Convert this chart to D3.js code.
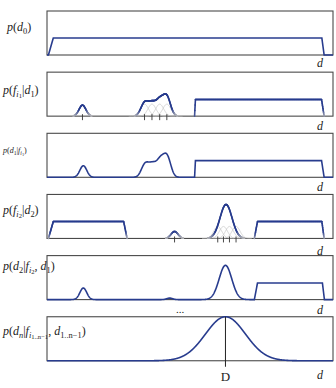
<!DOCTYPE html>
<html>
<head>
<meta charset="utf-8">
<script src="https://cdn.jsdelivr.net/npm/d3@7/dist/d3.min.js"></script>
<style>
  html, body { margin: 0; padding: 0; background: #fff; }
  svg { display: block; }
  text { font-family: "Liberation Serif", "DejaVu Serif", serif; fill: #222; }
</style>
</head>
<body>
<script>
// d runs 0..100 across each box, heights are in px-like units (box = 44)

// plateaus: [rampStart, top start, top end, rampEnd, height]
const plateaus = [
  [[0.5, 2.2, 96.1, 96.9, 17]],
  [[51.6, 51.9, 96.0, 96.9, 16.7]],
  [[51.6, 51.9, 96.0, 96.9, 16.7]],
  [[0.5, 2.2, 26.8, 28.0, 17], [72.5, 73.6, 96.1, 96.9, 17]],
  [[72.5, 73.6, 96.3, 97.0, 16.6]],
  []
];

// blue gaussian components: [centre, sigma, amplitude]
const bumps = [
  [],
  [[12.4, 1.2, 11], [34.1, 1.3, 13], [36.7, 1.3, 12], [39.4, 1.3, 15], [41.9, 1.3, 19]],
  [[12.7, 1.2, 11.6], [34.3, 1.3, 13], [36.9, 1.3, 12], [39.6, 1.3, 16], [42.0, 1.3, 20]],
  [[44.6, 1.2, 7], [62.6, 2.1, 34]],
  [[12.7, 1.2, 11.6], [42.9, 1.0, 1.5], [62.4, 2.2, 34.3]],
  [[62.4, 7.0, 44]]
];

// light grey single-feature gaussians
const features = [
  [], [[34.1, 1.4, 12], [36.7, 1.4, 12], [39.4, 1.4, 12], [41.9, 1.4, 12]],
  [], [[59.7, 1.4, 12], [61.7, 1.4, 12], [63.8, 1.4, 12], [66.1, 1.4, 12]],
  [], []
];

// feature tick positions
const featureTicks = [
  [], [12.4, 34.1, 36.7, 39.4, 41.9], [], [44.6, 59.7, 61.7, 63.8, 66.1], [], []
];

// likelihood panels fade to grey near zero
const isLikelihood = [false, true, false, true, false, false];

// labels as [text, style] pieces: i = italic, level 0/1/2 = base/sub/subsub
const labels = [
  [["p", "i", 0], ["(", "", 0], ["d", "i", 0], ["0", "", 1], [")", "", 0]],
  [["p", "i", 0], ["(", "", 0], ["f", "i", 0], ["i", "i", 1], ["1", "", 2], ["|", "", 0], ["d", "i", 0], ["1", "", 1], [")", "", 0]],
  [["p", "i", 0], ["(", "", 0], ["d", "i", 0], ["1", "", 1], ["|", "", 0], ["f", "i", 0], ["i", "i", 1], ["1", "", 2], [")", "", 0]],
  [["p", "i", 0], ["(", "", 0], ["f", "i", 0], ["i", "i", 1], ["2", "", 2], ["|", "", 0], ["d", "i", 0], ["2", "", 1], [")", "", 0]],
  [["p", "i", 0], ["(", "", 0], ["d", "i", 0], ["2", "", 1], ["|", "", 0], ["f", "i", 0], ["i", "i", 1], ["2", "", 2], [", ", "", 0], ["d", "i", 0], ["1", "", 1], [")", "", 0]],
  [["p", "i", 0], ["(", "", 0], ["d", "i", 0], ["n", "i", 1], ["|", "", 0], ["f", "i", 0], ["i", "i", 1], ["1..n−1", "", 2], [", ", "", 0], ["d", "i", 0], ["1..n−1", "", 1], [")", "", 0]]
];
const labelSize = [12, 12, 8, 12, 12, 12];
const labelPos = [[7, 31], [3, 94], [3, 153], [3, 214], [3, 270], [3, 335]];
const dLabelY = [67, 130, 191, 255, 314, 379];

const markerD = 62.4;   // the "D" line in the last panel

const W = 336, H = 388;
const blue = "#283c8e";
const boxLeft = 47, boxRight = 333, boxH = 44;
const panelTop = i => 11 + i * 61.15;

const x = d3.scaleLinear().domain([0, 100]).range([boxLeft, boxRight]);
const grid = d3.range(0, 100.0001, 0.1);

function trap(d, p) {
  const [a0, a1, b1, b0, h] = p;
  if (d <= a0 || d >= b0) return 0;
  if (d < a1) return h * (d - a0) / (a1 - a0);
  if (d > b1) return h * (b0 - d) / (b0 - b1);
  return h;
}
const gauss = (d, g) => g[2] * Math.exp(-0.5 * ((d - g[0]) / g[1]) ** 2);

const svg = d3.select("body").append("svg")
  .attr("width", W).attr("height", H)
  .attr("viewBox", `0 0 ${W} ${H}`);

for (let i = 0; i < 6; i++) {
  const top = panelTop(i);
  const y = d3.scaleLinear().domain([0, boxH]).range([top + boxH, top]);
  const g = svg.append("g");

  g.append("rect")
    .attr("x", boxLeft).attr("y", top)
    .attr("width", boxRight - boxLeft).attr("height", boxH)
    .attr("fill", "none").attr("stroke", "#4a4a4a").attr("stroke-width", 1.1);

  // single feature likelihoods
  features[i].forEach(f => {
    const pts = grid.filter(d => Math.abs(d - f[0]) < 4 * f[1]).map(d => [d, gauss(d, f)]);
    g.append("path")
      .attr("d", d3.line().x(p => x(p[0])).y(p => y(p[1]))(pts))
      .attr("fill", "none").attr("stroke", "#c4c4c4").attr("stroke-width", 0.7);
  });

  const vals = grid.map(d => [d,
    d3.max([0, ...plateaus[i].map(p => trap(d, p))]) + d3.sum(bumps[i], b => gauss(d, b))]);

  if (isLikelihood[i]) {
    const fade = d3.interpolateRgb("#b8b8b8", blue);
    for (let k = 1; k < vals.length; k++) {
      const a = vals[k - 1], b = vals[k];
      const h = Math.max(a[1], b[1]);
      if (h < 0.3 && Math.min(a[1], b[1]) < 0.3) continue;
      g.append("line")
        .attr("x1", x(a[0])).attr("y1", y(a[1]))
        .attr("x2", x(b[0])).attr("y2", y(b[1]))
        .attr("stroke", fade(Math.min(1, h / 7)))
        .attr("stroke-width", 1.6).attr("stroke-linecap", "round");
    }
  } else {
    g.append("path")
      .attr("d", d3.line().x(p => x(p[0])).y(p => y(p[1]))(vals))
      .attr("fill", "none").attr("stroke", blue).attr("stroke-width", 1.6);
  }

  featureTicks[i].forEach(t => {
    g.append("line")
      .attr("x1", x(t)).attr("x2", x(t))
      .attr("y1", y(0) - 2).attr("y2", y(0) + 4)
      .attr("stroke", "#333").attr("stroke-width", 0.9);
  });

  // math label
  const fs = labelSize[i];
  const sizes = [fs, fs * 0.7, fs * 0.55];
  const shifts = [0, fs * 0.22, fs * 0.36];
  const txt = g.append("text")
    .attr("x", labelPos[i][0]).attr("y", labelPos[i][1])
    .attr("xml:space", "preserve");
  let level = 0;
  labels[i].forEach(([s, st, lv]) => {
    txt.append("tspan")
      .attr("dy", shifts[lv] - shifts[level])
      .attr("font-size", sizes[lv])
      .attr("font-style", st === "i" ? "italic" : "normal")
      .text(s);
    level = lv;
  });

  g.append("text")
    .attr("x", 320).attr("y", dLabelY[i])
    .attr("text-anchor", "middle")
    .attr("font-style", "italic").attr("font-size", 12)
    .text("d");
}

// last panel marker
const top6 = panelTop(5);
svg.append("line")
  .attr("x1", x(markerD)).attr("x2", x(markerD))
  .attr("y1", top6).attr("y2", top6 + boxH + 6)
  .attr("stroke", "#222").attr("stroke-width", 1);
svg.append("text")
  .attr("x", x(markerD)).attr("y", 381)
  .attr("text-anchor", "middle").attr("font-size", 13)
  .text("D");
svg.append("text")
  .attr("x", 180).attr("y", 313)
  .attr("text-anchor", "middle").attr("font-size", 11)
  .text("...");
</script>
</body>
</html>
